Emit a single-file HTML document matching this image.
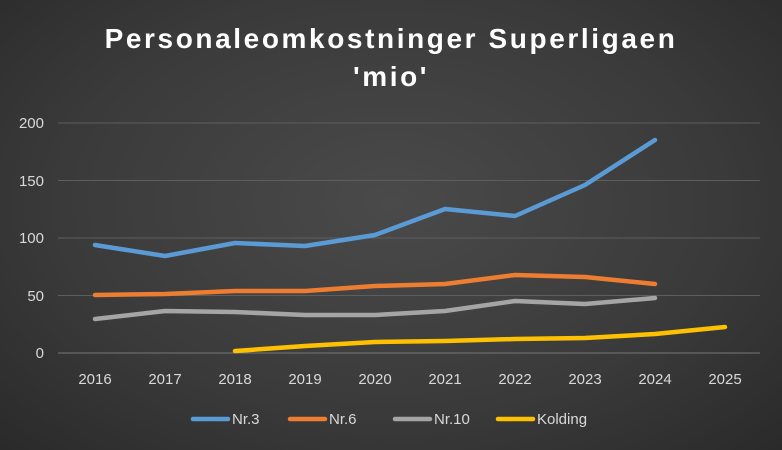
<!DOCTYPE html>
<html><head><meta charset="utf-8"><style>
html,body{margin:0;padding:0;}
body{width:782px;height:450px;overflow:hidden;background:radial-gradient(ellipse at 50% 45%,#4a4a4a 0%,#3a3a3a 60%,#2a2a2a 100%);font-family:"Liberation Sans",sans-serif;}
</style></head><body>
<svg width="782" height="450" xmlns="http://www.w3.org/2000/svg" style="position:absolute;left:0;top:0">
<g font-family="Liberation Sans, sans-serif">
<text x="391" y="48" fill="#fff" font-size="28" font-weight="bold" text-anchor="middle" letter-spacing="2.6">Personaleomkostninger Superligaen</text>
<text x="391" y="86" fill="#fff" font-size="28" font-weight="bold" text-anchor="middle" letter-spacing="2.6">'mio'</text>
<g stroke="#5e5e5e" stroke-width="1">
<line x1="58" y1="123" x2="760" y2="123"/><line x1="58" y1="180.5" x2="760" y2="180.5"/>
<line x1="58" y1="238" x2="760" y2="238"/><line x1="58" y1="295.5" x2="760" y2="295.5"/>
<line x1="58" y1="353" x2="760" y2="353" stroke="#777"/>
</g>
<g fill="#d9d9d9" font-size="15" text-anchor="end">
<text x="44" y="128">200</text><text x="44" y="186">150</text><text x="44" y="243">100</text><text x="44" y="301">50</text><text x="44" y="358">0</text>
</g>
<g fill="#d9d9d9" font-size="15" text-anchor="middle">
<text x="95" y="384">2016</text><text x="165" y="384">2017</text><text x="235" y="384">2018</text><text x="305" y="384">2019</text><text x="375" y="384">2020</text><text x="445" y="384">2021</text><text x="515" y="384">2022</text><text x="585" y="384">2023</text><text x="655" y="384">2024</text><text x="725" y="384">2025</text>
</g>
<g fill="none" stroke-width="4.5" stroke-linejoin="round" stroke-linecap="round">
<polyline stroke="#5b9bd5" points="95,245 165,256 235,243 305,246 375,235 445,209 515,216 585,185 655,140"/>
<polyline stroke="#ed7d31" points="95,295 165,294 235,291 305,291 375,286 445,284 515,275 585,277 655,284"/>
<polyline stroke="#a5a5a5" points="95,319 165,311 235,312 305,315 375,315 445,311 515,301 585,304 655,298"/>
<polyline stroke="#ffc000" points="235,351 305,346 375,342 445,341 515,339 585,338 655,334 725,327"/>
</g>
<g stroke-width="4.5" stroke-linecap="round">
<line x1="193" y1="419" x2="228" y2="419" stroke="#5b9bd5"/>
<line x1="290" y1="419" x2="325" y2="419" stroke="#ed7d31"/>
<line x1="395" y1="419" x2="430" y2="419" stroke="#a5a5a5"/>
<line x1="498" y1="419" x2="533" y2="419" stroke="#ffc000"/>
</g>
<g fill="#d9d9d9" font-size="15">
<text x="232" y="424">Nr.3</text><text x="329" y="424">Nr.6</text><text x="434" y="424">Nr.10</text><text x="537" y="424">Kolding</text>
</g>
</g>
</svg>
</body></html>
